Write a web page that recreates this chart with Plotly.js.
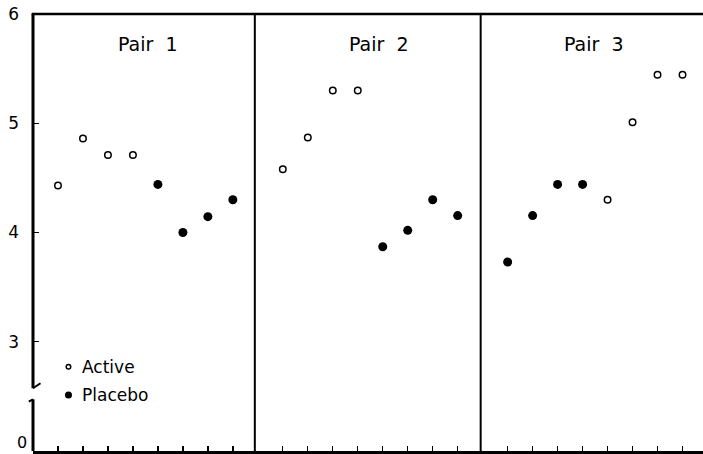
<!DOCTYPE html>
<html>
<head>
<meta charset="utf-8">
<script src="https://cdn.plot.ly/plotly-3.0.1.min.js"></script>
<style>html,body{margin:0;padding:0;background:#fff;}#chart{width:703px;height:454px;}</style>
</head>
<body>
<div id="chart"></div>
<script>
// ---- data ----
const pairNames = ['Pair&nbsp;&nbsp;1', 'Pair&nbsp;&nbsp;2', 'Pair&nbsp;&nbsp;3'];
const sessions = [1, 2, 3, 4, 5, 6, 7, 8];
const activeSessions = [[1, 2, 3, 4], [1, 2, 3, 4], [5, 6, 7, 8]];
const activeValues = [[4.43, 4.86, 4.71, 4.71], [4.58, 4.87, 5.30, 5.30], [4.30, 5.01, 5.445, 5.445]];
const placeboSessions = [[5, 6, 7, 8], [5, 6, 7, 8], [1, 2, 3, 4]];
const placeboValues = [[4.44, 4.00, 4.145, 4.30], [3.87, 4.02, 4.30, 4.155], [3.73, 4.155, 4.44, 4.44]];
const yTickVals = [3, 4, 5, 6];
const yTickText = ['3', '4', '5', '6'];
const yBaseLabel = '0';
const legendLabels = ['Active', 'Placebo'];

// ---- layout helpers ----
const slotsPerPair = 9;
const toX = (p, s) => p * slotsPerPair + s;
const FONT = 'DejaVu Sans, sans-serif';
const openMarker = {symbol: 'circle-open', size: 6.5, color: '#000', line: {color: '#000', width: 1.5}};
const filledMarker = {symbol: 'circle', size: 9, color: '#000', line: {width: 0}};

const traces = [];
for (let p = 0; p < 3; p++) {
  traces.push({x: activeSessions[p].map(s => toX(p, s)), y: activeValues[p], mode: 'markers', type: 'scatter',
    marker: openMarker, showlegend: false, hoverinfo: 'skip', cliponaxis: false});
  traces.push({x: placeboSessions[p].map(s => toX(p, s)), y: placeboValues[p], mode: 'markers', type: 'scatter',
    marker: filledMarker, showlegend: false, hoverinfo: 'skip', cliponaxis: false});
}
// key markers
const keyX = 1.42, keyY = [2.771, 2.513];
traces.push({x: [keyX], y: [keyY[0]], mode: 'markers', type: 'scatter', showlegend: false, hoverinfo: 'skip',
  marker: {symbol: 'circle-open', size: 4.5, color: '#000', line: {color: '#000', width: 1.5}}});
traces.push({x: [keyX], y: [keyY[1]], mode: 'markers', type: 'scatter', showlegend: false, hoverinfo: 'skip',
  marker: {symbol: 'circle', size: 7, color: '#000', line: {width: 0}}});

const allTicks = [];
for (let p = 0; p < 3; p++) sessions.forEach(s => allTicks.push(toX(p, s)));

const xMax = 26.82;
const dividers = [8.88, 17.92];
const shapes = [
  {type: 'line', xref: 'paper', yref: 'paper', x0: -0.002, x1: 1.01, y0: 1, y1: 1, line: {color: '#000', width: 2.5}},
  {type: 'line', xref: 'paper', yref: 'y', x0: 0, x1: 0, y0: 6.01, y1: 2.574, line: {color: '#000', width: 3}},
  {type: 'line', xref: 'paper', yref: 'y', x0: 0, x1: 0.3 / xMax, y0: 2.574, y1: 2.62, line: {color: '#000', width: 2}},
  {type: 'line', xref: 'paper', yref: 'y', x0: 0, x1: 0, y0: 2.473, y1: 1.99, line: {color: '#000', width: 3}},
  {type: 'line', xref: 'paper', yref: 'y', x0: -0.17 / xMax, x1: 0, y0: 2.452, y1: 2.473, line: {color: '#000', width: 2}}
];
dividers.forEach(d => shapes.push({type: 'line', xref: 'x', yref: 'paper', x0: d, x1: d, y0: 0, y1: 1,
  line: {color: '#000', width: 2}}));

const pairLabelX = [4.62, 13.87, 22.44];
const annotations = pairNames.map((t, i) => ({x: pairLabelX[i], y: 5.73, xref: 'x', yref: 'y', text: t,
  showarrow: false, font: {family: FONT, size: 19, color: '#000'}, xanchor: 'center', yanchor: 'middle'}));
legendLabels.forEach((t, i) => annotations.push({x: 1.9, y: keyY[i], xref: 'x', yref: 'y', text: t, showarrow: false,
  xanchor: 'left', yanchor: 'middle', font: {family: FONT, size: 17, color: '#000'}}));
annotations.push({x: 0, y: 2.075, xref: 'paper', yref: 'y', xshift: -4, text: yBaseLabel, showarrow: false,
  xanchor: 'right', yanchor: 'middle', font: {family: FONT, size: 16, color: '#000'}});

const layout = {
  width: 703, height: 454,
  margin: {l: 33, r: 0, t: 14, b: 3, pad: 0},
  paper_bgcolor: '#fff', plot_bgcolor: '#fff',
  showlegend: false,
  xaxis: {range: [0, xMax], showgrid: false, zeroline: false, showline: true, linecolor: '#000', linewidth: 3,
    tickmode: 'array', tickvals: allTicks, ticks: 'inside', ticklen: 5, tickwidth: 1.3, tickcolor: '#000',
    showticklabels: false, fixedrange: true},
  yaxis: {range: [2, 6], showgrid: false, zeroline: false, showline: false,
    tickmode: 'array', tickvals: yTickVals, ticktext: yTickText, ticks: 'inside', ticklen: 6, tickwidth: 1.3,
    tickcolor: '#000', ticklabelstandoff: 13, tickfont: {family: FONT, size: 17, color: '#000'}, fixedrange: true},
  shapes: shapes,
  annotations: annotations
};

Plotly.newPlot('chart', traces, layout, {displayModeBar: false, staticPlot: true});
</script>
</body>
</html>
